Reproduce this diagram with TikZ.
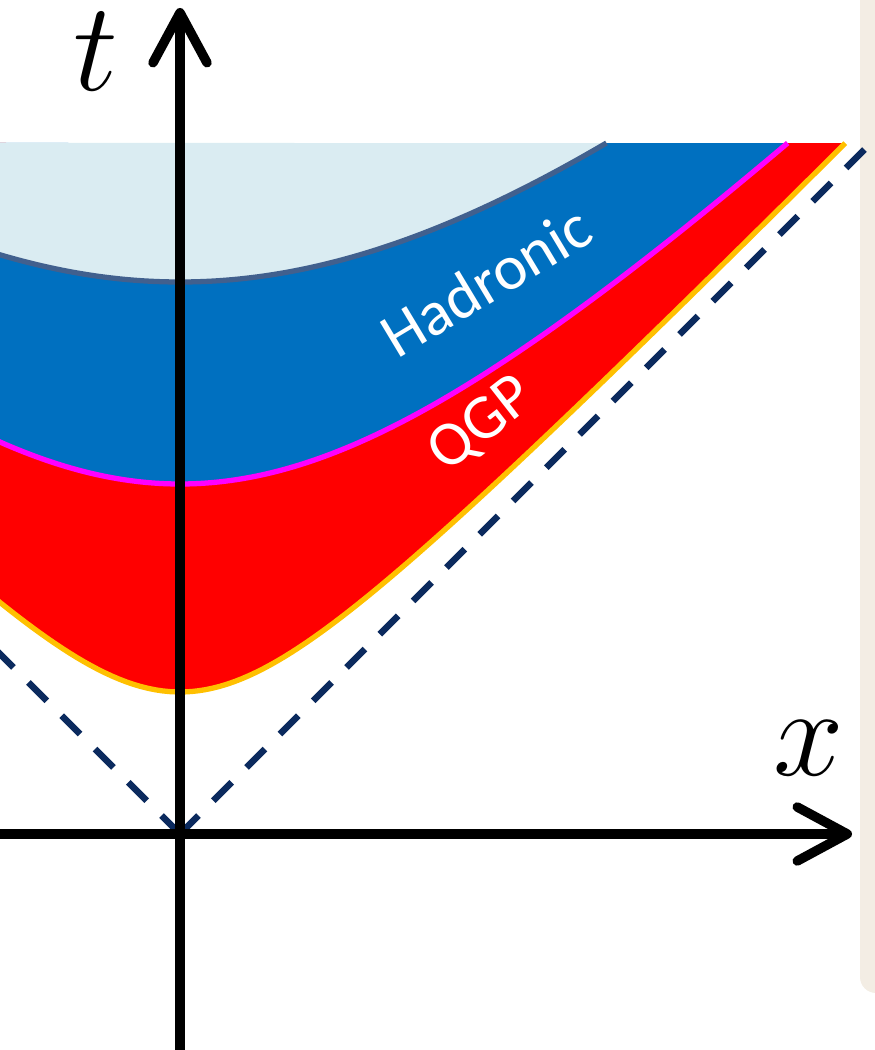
\documentclass[tikz,border=0pt]{standalone}
\usepackage{fix-cm}
\usepackage{fontspec}
\setsansfont{Carlito}
\usepackage{xcolor}
\usetikzlibrary{arrows.meta}

\definecolor{skyfill}{HTML}{DAECF2}
\definecolor{hadblue}{HTML}{0070C0}
\definecolor{qgpred}{HTML}{FF0000}
\definecolor{edgemag}{HTML}{FF00FF}
\definecolor{edgeamber}{HTML}{FFC000}
\definecolor{edgeslate}{HTML}{41608E}
\definecolor{conenavy}{HTML}{0B2A5E}
\definecolor{panelbeige}{HTML}{F3EDE4}

\begin{document}
\begin{tikzpicture}[
  axis/.style={line width=2.7pt, draw=black, -{Straight Barb[length=5mm, width=5.4mm, round]}},
  cone/.style={line width=1.9pt, draw=conenavy, dash pattern=on 7.4pt off 6pt},
  border/.style={line width=1.5pt},
  axlabel/.style={inner sep=0pt, font=\fontsize{36}{40}\selectfont},
  region/.style={inner sep=0pt, text=white, font=\sffamily\fontsize{18}{21}\selectfont}
]
  \useasboundingbox (-1.80,-2.16) rectangle (6.94,8.34);

  % Side panel
  \fill[panelbeige, rounded corners=0.16cm] (6.80,-1.59) rectangle (7.30,8.60);

  % Bands between curves t^2 - (x/a)^2 = tau^2
  \fill[qgpred] plot[domain=-1.9:6.654, samples=120] (\x,{sqrt(1.42*1.42+(\x/0.984)^2)}) -- (-1.9,6.91) -- cycle;
  \fill[hadblue] plot[domain=-1.9:6.077, samples=120] (\x,{sqrt(3.50*3.50+(\x/1.02)^2)}) -- (-1.9,6.91) -- cycle;
  \fill[skyfill] plot[domain=-1.9:4.265, samples=120] (\x,{sqrt(5.52*5.52+(\x/1.026)^2)}) -- (-1.9,6.91) -- cycle;

  % Boundaries
  \draw[border, edgeamber] plot[domain=-1.9:6.654, samples=120] (\x,{sqrt(1.42*1.42+(\x/0.984)^2)});
  \draw[border, edgemag] plot[domain=-1.9:6.077, samples=120] (\x,{sqrt(3.50*3.50+(\x/1.02)^2)});
  \draw[border, edgeslate] plot[domain=-1.9:4.265, samples=120] (\x,{sqrt(5.52*5.52+(\x/1.026)^2)});

  % Light cone
  \coordinate (o) at (0,0);
  \coordinate (coneL) at (-1.9,1.9);
  \coordinate (coneR) at (6.94,6.94);
  \draw[cone] (o) -- (coneL);
  \draw[cone] (o) -- (coneR);

  % Axes
  \coordinate (tlow) at (0,-2.2);
  \coordinate (ttop) at (0,8.26);
  \coordinate (xlow) at (-1.9,0);
  \coordinate (xtop) at (6.72,0);
  \draw[axis] (xlow) -- (xtop);
  \draw[axis] (tlow) -- (ttop);

  \node[axlabel] (tlab) at (-0.84,7.82) {$t$};
  \node[axlabel] (xlab) at (6.29,0.86) {$x$};

  % Region labels
  \node[region, rotate=31] (had) at (3.06,5.53) {Hadronic};
  \node[region, rotate=38] (qgp) at (3.02,4.09) {QGP};

\end{tikzpicture}
\end{document}
